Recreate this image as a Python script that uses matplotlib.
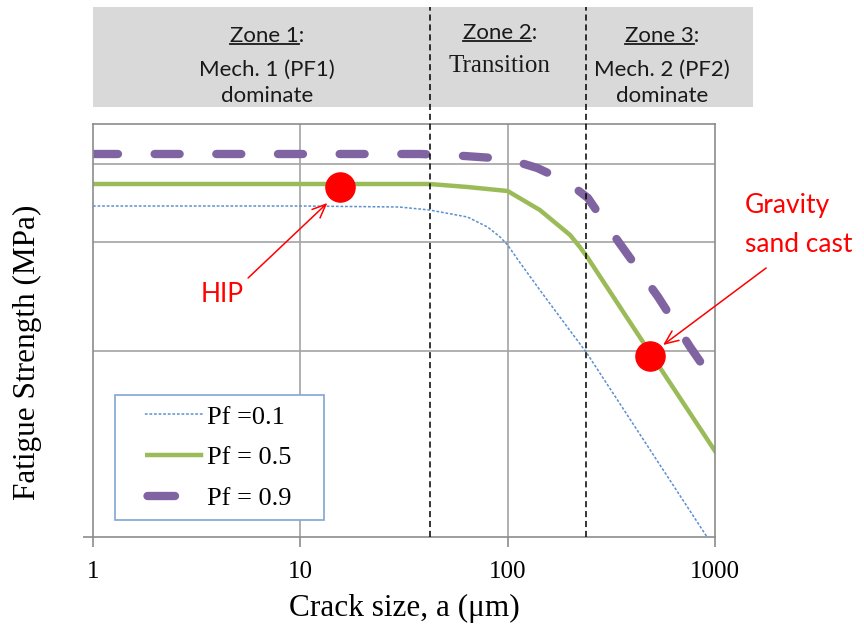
import numpy as np
import matplotlib
matplotlib.use('Agg')
import matplotlib.pyplot as plt
import matplotlib.ticker as mticker
import matplotlib.transforms as mtransforms
from matplotlib.patches import Rectangle
from matplotlib.lines import Line2D

SERIF = 'Liberation Serif'
SANS = 'Lato'

# crack size (um) and fatigue strength (arbitrary MPa scale)
a_pf01 = [1, 10, 30, 42, 64, 80, 92, 100, 115, 143, 194, 239, 916]
s_pf01 = [331, 331, 330, 327, 320, 310, 300, 292, 274, 247, 210, 185, 0]

a_pf05 = [1, 10, 30, 42, 64, 100, 143, 200, 223, 242, 403, 1000]
s_pf05 = [353, 353, 353, 353, 350, 346, 327, 302, 290, 280, 210, 86]

a_pf09 = [1, 10, 38, 62, 100, 139, 194, 244, 295, 360, 532, 759, 1000]
s_pf09 = [383, 383, 383, 381, 378, 369, 355, 339, 314, 289, 240, 190, 154]

labels = ['Pf =0.1', 'Pf = 0.5', 'Pf = 0.9']

# process points
hip_pt = (15.5, 350)
gravity_pt = (486, 181)

zone_bounds = [42, 238]
strength_grid = [186, 295, 373]
x_ticks = [1, 10, 100, 1000]

c_blue, c_green, c_purple = '#5b8fd0', '#9bbb59', '#8064a2'

fig = plt.figure(figsize=(8.64, 6.32), dpi=100)
ax = fig.add_axes([0.1076, 0.1503, 0.7199, 0.6535])
ax.set_xscale('log')
ax.set_xlim(1, 1000)
ax.set_ylim(0, 413)

grid_c = '#a3a3a3'
for v in [10, 100]:
    ax.axvline(v, color=grid_c, lw=1.2, zorder=0.5)
for h in strength_grid:
    ax.axhline(h, color=grid_c, lw=1.2, zorder=0.5)
for s in ax.spines.values():
    s.set_color('#8c8c8c')
    s.set_linewidth(1.2)

ax.set_xticks(x_ticks)
ax.set_xticklabels([str(t) for t in x_ticks], fontfamily=SERIF, fontsize=18)
ax.xaxis.set_minor_locator(mticker.NullLocator())
ax.set_yticks([0])
ax.set_yticklabels([''])
ax.tick_params(axis='both', direction='out', length=7, width=1.2, color='#8c8c8c', pad=10)

ax.plot(a_pf01, s_pf01, color=c_blue, lw=1.1, ls=(0, (1.8, 1.2)), zorder=2)
ax.plot(a_pf05, s_pf05, color=c_green, lw=3.2, zorder=2)
ax.plot(a_pf09, s_pf09, color=c_purple, lw=6, ls=(0, (3.0, 4.4)),
        dash_capstyle='round', zorder=2)

ax.plot(*hip_pt, 'o', color='red', ms=21, zorder=5)
ax.plot(*gravity_pt, 'o', color='red', ms=21, zorder=5)

# annotations
arrow = dict(arrowstyle='->,head_length=0.7,head_width=0.3', color='red', lw=1.1,
             mutation_scale=14, shrinkA=0, shrinkB=0)
ax.text(4.19, 235, 'HIP', color='red', fontfamily=SANS, fontsize=19, ha='center', va='baseline')
ax.annotate('', xy=(13.5, 334), xytext=(5.6, 259), arrowprops=arrow)
ax.text(1397, 324, 'Gravity', color='red', fontfamily=SANS, fontsize=19, ha='left', va='baseline')
ax.text(1397, 285, 'sand cast', color='red', fontfamily=SANS, fontsize=19, ha='left', va='baseline')
ax.annotate('', xy=(562, 192), xytext=(1765, 269), arrowprops=arrow, annotation_clip=False)

# zone header
ax.add_patch(Rectangle((0, 1.041), 1.061, 0.242, transform=ax.transAxes,
                       facecolor='#d9d9d9', edgecolor='none', clip_on=False, zorder=0))
trans = mtransforms.blended_transform_factory(ax.transData, ax.transAxes)
for b in zone_bounds:
    ax.plot([b, b], [0, 1.283], transform=trans, color='black', lw=1.1,
            ls=(0, (4, 2.5)), clip_on=False, zorder=3)

fig.canvas.draw()
rend = fig.canvas.get_renderer()


def zone_head(x, y, head):
    kw = dict(fontfamily=SANS, fontsize=16, color='#1a1a1a')
    t = ax.text(x, y, head + ':', transform=ax.transAxes, ha='center', va='baseline', **kw)
    tmp = ax.text(0, 0, head, transform=ax.transAxes, **kw)
    bb = t.get_window_extent(rend)
    w = tmp.get_window_extent(rend).width
    tmp.remove()
    yb = ax.transAxes.transform((x, y))[1] - 2.5
    inv = fig.transFigure.inverted()
    (fx0, fy), (fx1, _) = inv.transform([(bb.x0, yb), (bb.x0 + w, yb)])
    fig.add_artist(Line2D([fx0, fx1], [fy, fy], color='#1a1a1a', lw=1.3))


sub = dict(transform=ax.transAxes, ha='center', va='baseline', color='#1a1a1a')
zone_head(0.28, 1.199, 'Zone 1')
ax.text(0.28, 1.116, 'Mech. 1 (PF1)', fontfamily=SANS, fontsize=16, **sub)
ax.text(0.28, 1.053, 'dominate', fontfamily=SANS, fontsize=16, **sub)
zone_head(0.654, 1.206, 'Zone 2')
ax.text(0.654, 1.126, 'Transition', fontfamily=SERIF, fontsize=18, **sub)
zone_head(0.915, 1.199, 'Zone 3')
ax.text(0.915, 1.116, 'Mech. 2 (PF2)', fontfamily=SANS, fontsize=16, **sub)
ax.text(0.915, 1.053, 'dominate', fontfamily=SANS, fontsize=16, **sub)

# axis labels
ax.set_xlabel('Crack size, a (\u03bcm)', fontfamily=SERIF, fontsize=22.5, va='top')
ax.xaxis.set_label_coords(0.5, -0.138)
ax.set_ylabel('Fatigue Strength (MPa)', fontfamily=SERIF, fontsize=22.5, va='center')
ax.yaxis.set_label_coords(-0.106, 0.448)

# legend samples start a little inside the box, like the original
dots = [1.8, 1.2] * 12 + [1.8, 40]
h1 = Line2D([], [], color=c_blue, lw=1.1, ls=(sum(dots) - 13, dots))
h2 = Line2D([], [], color=c_green, lw=3.2, ls=(13.1 + 30 - 4.5, (13.1, 30)))
h3 = Line2D([], [], color=c_purple, lw=6, ls=(3.3 + 20 - 2.7, (3.3, 20)),
            dash_capstyle='round')
leg = ax.legend([h1, h2, h3], labels, loc='lower left',
                bbox_to_anchor=(0.0354, 0.041, 0.336, 0.303), mode='expand',
                borderaxespad=0, fancybox=False, framealpha=1, edgecolor='#7fa6d6',
                prop={'family': SERIF, 'size': 19}, handlelength=3.0,
                handletextpad=0.12, labelspacing=0.66, borderpad=0.37)
leg.get_frame().set_linewidth(1.2)
leg.set_zorder(6)

fig.savefig('out.png', dpi=100)
